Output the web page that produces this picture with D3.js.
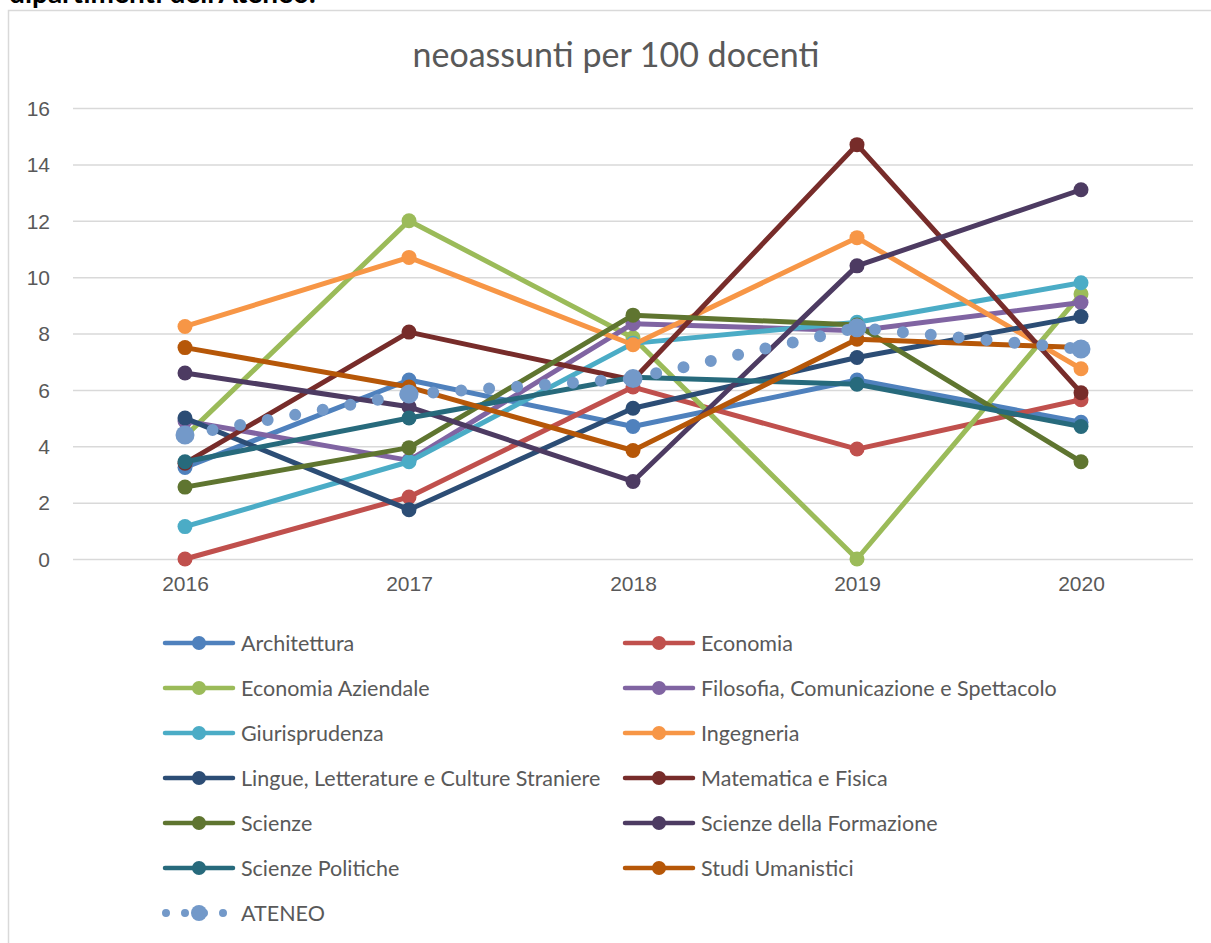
<!DOCTYPE html>
<html>
<head>
<meta charset="utf-8">
<title>neoassunti per 100 docenti</title>
<style>
    body, html {
        margin: 0;
        padding: 0;
        background: #fff;
        font-family: Lato, "Open Sans", sans-serif;
    }
    .grid line { stroke: #d9d9d9; stroke-width: 1.5; }
    .grid .domain { display: none; }
    .tick text { fill: #595959; font-size: 21px; }
</style>
</head>
<body>
<div id="chart"></div>
<script src="https://d3js.org/d3.v7.min.js"></script>
<script>

    var years = ['2016', '2017', '2018', '2019', '2020'];
    var yTicks = [0, 2, 4, 6, 8, 10, 12, 14, 16];

    var seriesNames = [
        'Architettura', 'Economia', 'Economia Aziendale',
        'Filosofia, Comunicazione e Spettacolo', 'Giurisprudenza', 'Ingegneria',
        'Lingue, Letterature e Culture Straniere', 'Matematica e Fisica', 'Scienze',
        'Scienze della Formazione', 'Scienze Politiche', 'Studi Umanistici', 'ATENEO'
    ];

    var architettura   = [3.25, 6.35, 4.7, 6.35, 4.85];
    var economia       = [0, 2.2, 6.1, 3.9, 5.65];
    var ecoAziendale   = [4.35, 12.0, 7.85, 0, 9.4];
    var filosofia      = [4.9, 3.5, 8.35, 8.1, 9.1];
    var giurisprudenza = [1.15, 3.45, 7.65, 8.4, 9.8];
    var ingegneria     = [8.25, 10.7, 7.6, 11.4, 6.75];
    var lingue         = [5.0, 1.75, 5.35, 7.15, 8.6];
    var matematica     = [3.4, 8.05, 6.35, 14.7, 5.9];
    var scienze        = [2.55, 3.95, 8.65, 8.3, 3.45];
    var formazione     = [6.6, 5.4, 2.75, 10.4, 13.1];
    var politiche      = [3.45, 5.0, 6.45, 6.2, 4.7];
    var umanistici     = [7.5, 6.1, 3.85, 7.8, 7.5];
    var ateneo         = [4.4, 5.85, 6.4, 8.2, 7.45];

    var seriesValues = [architettura, economia, ecoAziendale, filosofia, giurisprudenza,
        ingegneria, lingue, matematica, scienze, formazione, politiche, umanistici, ateneo];

    var colors = ['#4F81BD', '#C0504D', '#9BBB59', '#8064A2', '#4BACC6', '#F79646',
        '#2C4D75', '#772C2A', '#5F7530', '#4D3B62', '#276A7C', '#B65708', '#7399C9'];

    var width = 1211;
    var height = 943;

    var svg = d3.select('#chart')
        .append('svg')
        .attr('width', width)
        .attr('height', height);

    // heading of the page above the chart, cut by the crop as in the original
    svg.append('text')
        .attr('x', 9)
        .attr('y', 3)
        .style('font-size', '28px')
        .style('font-weight', 'bold')
        .style('fill', '#000')
        .text("dipartimenti dell'Ateneo.");

    // chart frame
    svg.append('rect')
        .attr('x', 8.5)
        .attr('y', 10.5)
        .attr('width', 1215)
        .attr('height', 960)
        .attr('fill', 'none')
        .attr('stroke', '#d9d9d9')
        .attr('stroke-width', 1.5);

    svg.append('text')
        .attr('x', 616)
        .attr('y', 67)
        .attr('text-anchor', 'middle')
        .style('font-size', '34px')
        .style('fill', '#595959')
        .text('neoassunti per 100 docenti');

    var x = d3.scalePoint()
        .domain(years)
        .range([73, 1193])
        .padding(0.5);

    var y = d3.scaleLinear()
        .domain([0, 16])
        .range([559, 108]);

    var yAxis = svg.append('g')
        .attr('class', 'grid')
        .attr('transform', 'translate(73,0)')
        .call(d3.axisLeft(y).tickValues(yTicks).tickSize(-1120).tickPadding(23));
    yAxis.selectAll('text').attr('dy', '0.35em');

    svg.append('g')
        .attr('class', 'grid')
        .attr('transform', 'translate(0,559)')
        .call(d3.axisBottom(x).tickSize(0).tickPadding(25))
        .selectAll('text')
        .attr('dy', '0.35em');

    var line = d3.line()
        .x(function(d, i) { return x(years[i]); })
        .y(function(d) { return y(d); });

    seriesValues.forEach(function(vals, k) {
        var isAteneo = seriesNames[k] === 'ATENEO';
        var g = svg.append('g');
        g.append('path')
            .attr('d', line(vals))
            .attr('fill', 'none')
            .attr('stroke', colors[k])
            .attr('stroke-width', isAteneo ? 12 : 5)
            .attr('stroke-linecap', 'round')
            .attr('stroke-linejoin', 'round')
            .attr('stroke-dasharray', isAteneo ? '0 28' : null);
        g.selectAll('circle')
            .data(vals)
            .enter()
            .append('circle')
            .attr('cx', function(d, i) { return x(years[i]); })
            .attr('cy', function(d) { return y(d); })
            .attr('r', isAteneo ? 9.5 : 7.5)
            .attr('fill', colors[k]);
    });

    // legend, two columns
    var legend = svg.selectAll('.legend')
        .data(seriesNames)
        .enter()
        .append('g')
        .attr('class', 'legend')
        .attr('transform', function(d, i) {
            var horz = i % 2 === 0 ? 163 : 623;
            var vert = 643 + Math.floor(i / 2) * 45;
            return 'translate(' + horz + ',' + vert + ')';
        });

    legend.each(function(d, i) {
        var g = d3.select(this);
        if (d === 'ATENEO') {
            g.append('line')
                .attr('x1', 3).attr('x2', 72)
                .attr('stroke', colors[i])
                .attr('stroke-width', 8)
                .attr('stroke-linecap', 'round')
                .attr('stroke-dasharray', '0 19');
            g.append('circle').attr('cx', 36).attr('r', 8).attr('fill', colors[i]);
        } else {
            g.append('line')
                .attr('x1', 2).attr('x2', 70)
                .attr('stroke', colors[i])
                .attr('stroke-width', 4.5)
                .attr('stroke-linecap', 'round');
            g.append('circle').attr('cx', 36).attr('r', 7).attr('fill', colors[i]);
        }
        g.append('text')
            .attr('x', 78)
            .attr('y', 7.5)
            .style('font-size', '21.5px')
            .style('fill', '#595959')
            .text(d);
    });

</script>
</body>
</html>
